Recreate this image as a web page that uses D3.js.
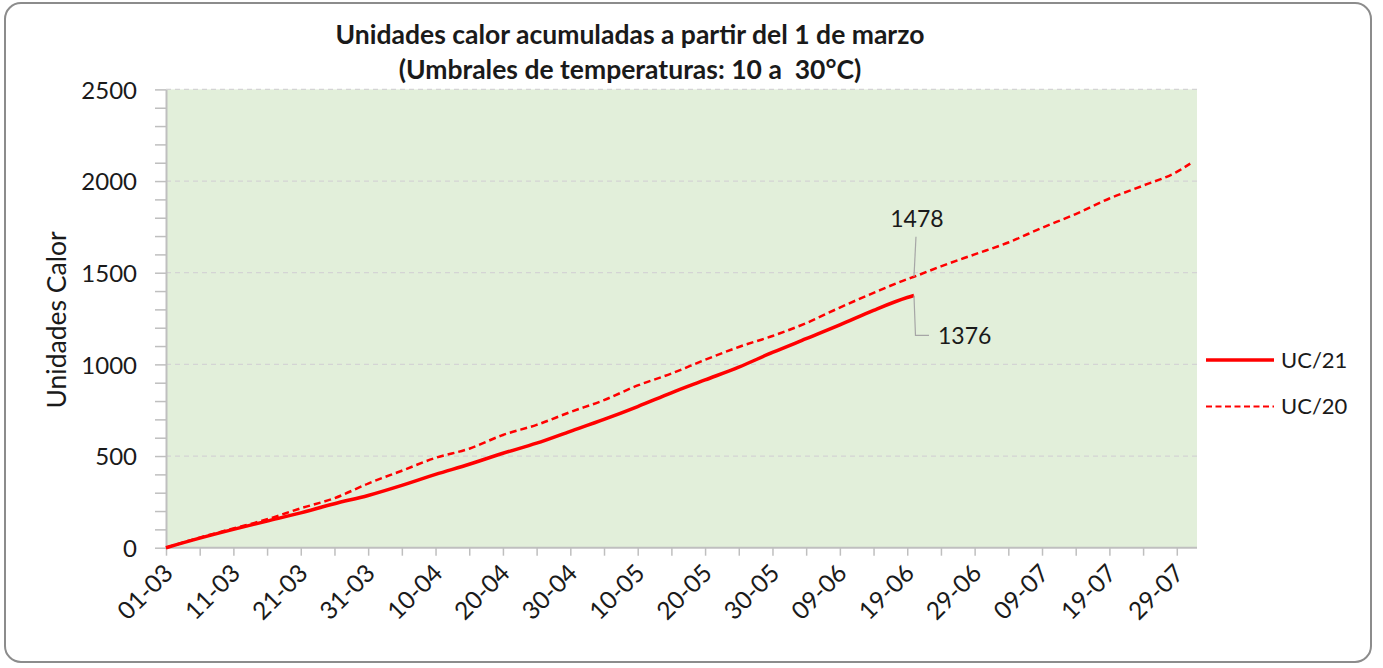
<!DOCTYPE html>
<html>
<head>
<meta charset="utf-8">
<script src="https://cdn.jsdelivr.net/npm/d3@7"></script>
<style>
  html, body { margin: 0; padding: 0; background: #fff; }
  svg { display: block; }
  text { font-family: Lato, "Open Sans", sans-serif; fill: #1a1a1a; }
</style>
</head>
<body>
<svg id="chart" width="1383" height="668"></svg>
<script>
// ---- data (day index counted from 01-03) ----
const titleLines = ["Unidades calor acumuladas a partir del 1 de marzo", "(Umbrales de temperaturas: 10 a  30°C)"];
const yAxisTitle = "Unidades Calor";
const xTickLabels = ["01-03","11-03","21-03","31-03","10-04","20-04","30-04","10-05","20-05","30-05","09-06","19-06","29-06","09-07","19-07","29-07"];
const yTicks = [0, 500, 1000, 1500, 2000, 2500];
const seriesNames = ["UC/21", "UC/20"];

const uc21Days   = [0, 5, 10, 15, 20, 25, 30, 35, 40, 45, 50, 55, 60, 65, 70, 75, 80, 85, 90, 95, 100, 105, 110, 111];
const uc21Values = [0, 52, 100, 145, 190, 240, 285, 340, 400, 455, 515, 570, 635, 700, 770, 845, 915, 985, 1065, 1140, 1215, 1295, 1365, 1376];

const uc20Days   = [0, 5, 10, 15, 20, 25, 30, 35, 40, 45, 50, 55, 60, 65, 70, 75, 80, 85, 90, 95, 100, 105, 110, 111, 115, 120, 125, 130, 135, 140, 145, 150, 152];
const uc20Values = [0, 55, 105, 155, 215, 270, 350, 420, 490, 540, 615, 670, 740, 805, 885, 950, 1025, 1095, 1155, 1225, 1310, 1390, 1465, 1478, 1535, 1600, 1665, 1745, 1820, 1905, 1975, 2050, 2095];

const labelDay = 111;
const uc21Label = 1376;
const uc20Label = 1478;

// ---- layout ----
const svg = d3.select("#chart");
const plot = { left: 166, right: 1197, top: 89.4, bottom: 547.7 };

svg.append("rect")
  .attr("x", 5).attr("y", 3).attr("width", 1366).attr("height", 659)
  .attr("rx", 16).attr("ry", 16)
  .attr("fill", "#fff").attr("stroke", "#8c8c8c").attr("stroke-width", 2);

const x = d3.scaleLinear().domain([0, 153]).range([plot.left, plot.right]);
const y = d3.scaleLinear().domain([0, 2500]).range([plot.bottom, plot.top]);

// plot background
svg.append("rect")
  .attr("x", x(0)).attr("y", y(2500))
  .attr("width", x(153) - x(0)).attr("height", y(0) - y(2500))
  .attr("fill", "#e2efda");

// gridlines
svg.append("g").selectAll("line")
  .data(yTicks.filter(v => v > 0))
  .join("line")
  .attr("x1", x(0)).attr("x2", x(153))
  .attr("y1", d => y(d)).attr("y2", d => y(d))
  .attr("stroke", "#d4d4d4").attr("stroke-width", 1.2)
  .attr("stroke-dasharray", "5,4");

// y axis with minor ticks
const yAxisG = svg.append("g").attr("transform", `translate(${x(0)},0)`)
  .call(d3.axisLeft(y).tickValues(d3.range(0, 2501, 100)).tickSize(11).tickSizeOuter(0)
    .tickFormat(d => yTicks.includes(d) ? d : ""));
yAxisG.select(".domain").attr("stroke", "#bfbfbf").attr("stroke-width", 2);
yAxisG.selectAll(".tick line").attr("stroke", "#bfbfbf").attr("stroke-width", 1.5);
yAxisG.selectAll(".tick text")
  .attr("x", -29).attr("dy", "0.36em")
  .style("font-size", "24px").style("fill", "#1a1a1a");

// x axis
const xAxisG = svg.append("g").attr("transform", `translate(0,${y(0)})`)
  .call(d3.axisBottom(x).tickValues(d3.range(0, 151, 5)).tickSize(8).tickSizeOuter(0)
    .tickFormat(d => d % 10 === 0 ? xTickLabels[d / 10] : ""));
xAxisG.select(".domain").attr("stroke", "#bfbfbf").attr("stroke-width", 2)
  .attr("d", `M${x(0)},0H${x(153)}`);
xAxisG.selectAll(".tick line").attr("stroke", "#bfbfbf").attr("stroke-width", 1.5);
xAxisG.selectAll(".tick text")
  .attr("y", 0).attr("dy", 0)
  .attr("transform", "translate(8,27) rotate(-45)")
  .attr("text-anchor", "end")
  .style("font-size", "24.5px").style("fill", "#1a1a1a");

// lines
const line = d3.line().x(d => x(d[0])).y(d => y(d[1])).curve(d3.curveMonotoneX);
const uc21 = uc21Days.map((d, i) => [d, uc21Values[i]]);
const uc20 = uc20Days.map((d, i) => [d, uc20Values[i]]);

svg.append("path").datum(uc20)
  .attr("d", line).attr("fill", "none")
  .attr("stroke", "#ff0000").attr("stroke-width", 2.5)
  .attr("stroke-dasharray", "7,4");

svg.append("path").datum(uc21)
  .attr("d", line).attr("fill", "none")
  .attr("stroke", "#ff0000").attr("stroke-width", 3.5)
  .attr("stroke-linejoin", "round");

// data labels with leader lines
const lx = x(labelDay);
svg.append("path")
  .attr("d", `M${lx},${y(uc20Label)}L${lx + 2},${y(uc20Label) - 40}`)
  .attr("fill", "none").attr("stroke", "#a6a6a6").attr("stroke-width", 1.2);
svg.append("text").attr("x", lx + 3).attr("y", y(uc20Label) - 50)
  .attr("text-anchor", "middle").style("font-size", "23px").text(uc20Label);

svg.append("path")
  .attr("d", `M${lx},${y(uc21Label)}L${lx + 1.5},${y(uc21Label) + 40}H${lx + 15}`)
  .attr("fill", "none").attr("stroke", "#a6a6a6").attr("stroke-width", 1.2);
svg.append("text").attr("x", lx + 24).attr("y", y(uc21Label) + 40).attr("dy", "0.36em")
  .attr("text-anchor", "start").style("font-size", "23px").text(uc21Label);

// title
svg.append("g").selectAll("text").data(titleLines).join("text")
  .attr("x", 630).attr("y", (d, i) => 44 + i * 35)
  .attr("text-anchor", "middle")
  .style("font-size", "26.5px").style("font-weight", "bold")
  .style("white-space", "pre").attr("xml:space", "preserve")
  .text(d => d);

// y axis title
svg.append("text")
  .attr("transform", "translate(66,320) rotate(-90)")
  .attr("text-anchor", "middle")
  .style("font-size", "26.5px")
  .text(yAxisTitle);

// legend
const legend = svg.append("g");
const legY = [360, 406.5];
legend.selectAll("line").data(seriesNames).join("line")
  .attr("x1", 1206).attr("x2", 1274)
  .attr("y1", (d, i) => legY[i]).attr("y2", (d, i) => legY[i])
  .attr("stroke", "#ff0000")
  .attr("stroke-width", (d, i) => i === 0 ? 3.5 : 2)
  .attr("stroke-dasharray", (d, i) => i === 0 ? null : "6,3.5");
legend.selectAll("text").data(seriesNames).join("text")
  .attr("x", 1281).attr("y", (d, i) => legY[i]).attr("dy", "0.36em")
  .style("font-size", "22px")
  .text(d => d);
</script>
</body>
</html>
